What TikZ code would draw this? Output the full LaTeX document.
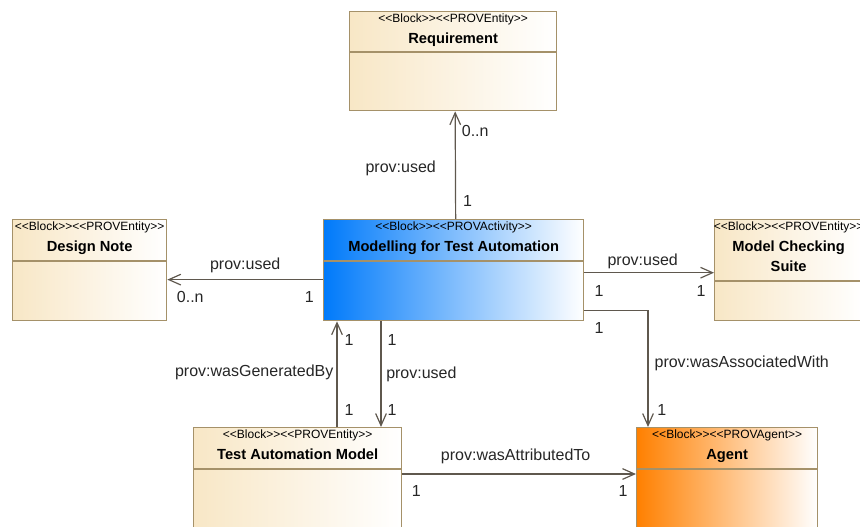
\documentclass[tikz,border=0pt]{standalone}
\usepackage{fontspec}
\setmainfont{Liberation Sans}
\usepackage{tikz}
\usetikzlibrary{arrows.meta}
\definecolor{blockedge}{RGB}{165,145,105}
\definecolor{entityfill}{RGB}{248,231,198}
\definecolor{activityfill}{RGB}{0,122,250}
\definecolor{agentfill}{RGB}{255,128,0}
\definecolor{connline}{RGB}{95,88,78}
\newcommand\stereotag[1]{<\kern0pt<#1>\kern0pt>}

\begin{document}
\begin{tikzpicture}[x=0.75pt, y=-0.75pt,
    blockbox/.style={rectangle, draw=blockedge, line width=1pt, inner sep=0pt, right color=white},
    stereo/.style={font=\fontsize{9}{10}\selectfont, inner sep=1pt},
    blocktitle/.style={font=\fontsize{11}{14.5}\selectfont\bfseries, align=center, inner sep=1pt},
    assoc/.style={draw=connline, line width=0.9pt, -{Straight Barb[length=9pt, width=8pt]}},
    lbl/.style={font=\fontsize{12}{14}\selectfont, text=black!85, inner sep=1pt}]
        \useasboundingbox (0,0) rectangle (860,526);
        \clip (0,0) rectangle (860,526);

        % name, left, top, width, height, header, fill, stereotype, title
        \def\drawblock#1#2#3#4#5#6#7#8#9{
            \node[blockbox, left color=#7, anchor=north west, minimum width=#4*0.75pt, minimum height=#5*0.75pt] (#1) at (#2, #3) {};
            \draw[blockedge, line width=1pt] ([yshift=-#6*0.75pt]#1.north west) -- ([yshift=-#6*0.75pt]#1.north east);
            \node[stereo, anchor=north] at ([yshift=-0.75pt]#1.north) {#8};
            \node[blocktitle, anchor=north] at ([yshift=-15.5pt]#1.north) {#9};
        }

        \drawblock{req}{349}{11}{207}{99}{41}{entityfill}{\stereotag{Block}\stereotag{PROVEntity}}{Requirement}
        \drawblock{dn}{12}{219}{154}{101}{42}{entityfill}{\stereotag{Block}\stereotag{PROVEntity}}{Design Note}
        \drawblock{mod}{323}{219}{260}{101}{42}{activityfill}{\stereotag{Block}\stereotag{PROVActivity}}{Modelling for Test Automation}
        \drawblock{mcs}{714}{219}{148}{101}{62}{entityfill}{\stereotag{Block}\stereotag{PROVEntity}}{Model Checking\\Suite}
        \drawblock{tam}{193}{427}{208}{120}{42}{entityfill}{\stereotag{Block}\stereotag{PROVEntity}}{Test Automation Model}
        \drawblock{agent}{636}{427}{181}{120}{42}{agentfill}{\stereotag{Block}\stereotag{PROVAgent}}{Agent}

        \draw[assoc] ([xshift=1.5pt]mod.north) --
            node[lbl, pos=0.47, anchor=east, xshift=-13.25pt] {prov:used}
            node[lbl, pos=0.165, anchor=west, xshift=4.25pt] {1}
            node[lbl, pos=0.817, anchor=west, xshift=3.5pt] {0..n} ([xshift=1.5pt]req.south);
        \draw[assoc] ([yshift=-7.1pt]mod.west) --
            node[lbl, anchor=south, yshift=3.5pt] {prov:used}
            node[lbl, pos=0, anchor=north east, xshift=-5.5pt, yshift=-7.25pt] {1}
            node[lbl, pos=1, anchor=north west, xshift=5.75pt, yshift=-7.25pt] {0..n} ([yshift=-7.1pt]dn.east);
        \draw[assoc] ([yshift=-1.9pt]mod.east) --
            node[lbl, pos=0.45, anchor=south, yshift=1.25pt] {prov:used}
            node[lbl, pos=0, anchor=north west, xshift=6.25pt, yshift=-8pt] {1}
            node[lbl, pos=1, anchor=north east, xshift=-5pt, yshift=-8pt] {1} ([yshift=-1.9pt]mcs.west);
        \draw[assoc] ([yshift=-30.4pt]mod.east) -|
            node[lbl, pos=0, anchor=north west, xshift=6.25pt, yshift=-7.75pt] {1}
            node[lbl, pos=0.726, anchor=west, xshift=3.5pt] {prov:wasAssociatedWith}
            node[lbl, pos=0.927, anchor=west, xshift=5.5pt] {1} ([xshift=9pt]agent.north west);
        \draw[assoc] ([xshift=108pt]tam.north west) --
            node[lbl, pos=0.52, anchor=east, xshift=-1.25pt] {prov:wasGeneratedBy}
            node[lbl, pos=0.16, anchor=west, xshift=4.25pt] {1}
            node[lbl, pos=0.82, anchor=west, xshift=4.25pt] {1} ([xshift=10.5pt]mod.south west);
        \draw[assoc] ([xshift=43.5pt]mod.south west) --
            node[lbl, pos=0.5, anchor=west, xshift=2.5pt] {prov:used}
            node[lbl, pos=0.18, anchor=west, xshift=3.5pt] {1}
            node[lbl, pos=0.84, anchor=west, xshift=3.5pt] {1} ([xshift=141pt]tam.north west);
        \draw[assoc] ([yshift=-35.25pt]tam.north east) --
            node[lbl, pos=0.485, anchor=south, yshift=6.5pt] {prov:wasAttributedTo}
            node[lbl, pos=0, anchor=north west, xshift=5.75pt, yshift=-7.25pt] {1}
            node[lbl, pos=1, anchor=north east, xshift=-5pt, yshift=-7.25pt] {1} ([yshift=-35.25pt]agent.north west);
    \end{tikzpicture}
\end{document}
